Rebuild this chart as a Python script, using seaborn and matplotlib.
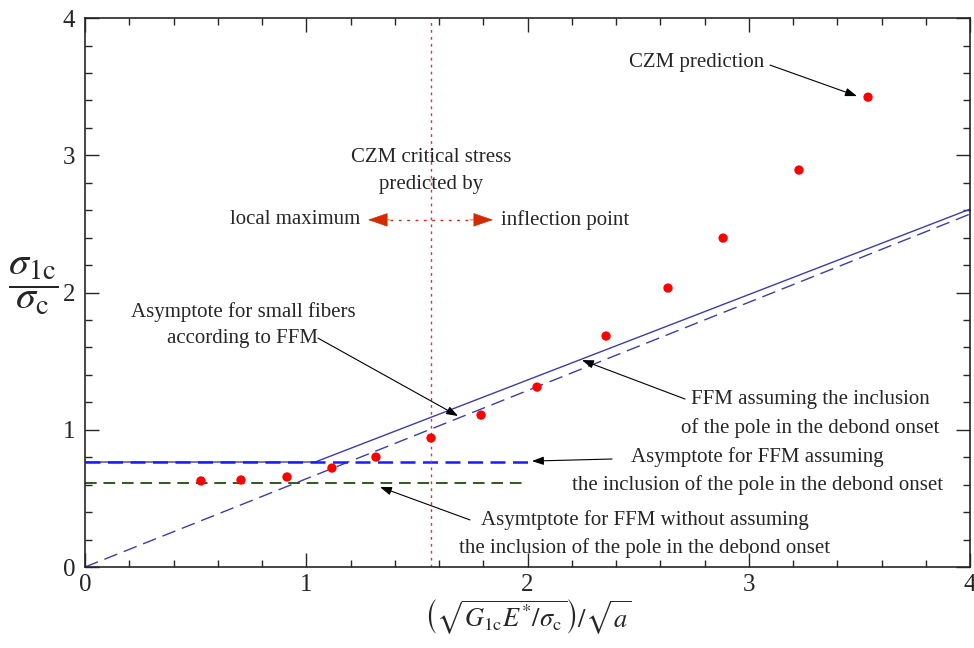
import matplotlib
matplotlib.use("Agg")
import matplotlib.pyplot as plt
from matplotlib.ticker import MultipleLocator
import pandas as pd
import seaborn as sns

# CZM prediction points
czm_x = [0.524, 0.705, 0.913, 1.116, 1.315, 1.564, 1.790, 2.043, 2.355, 2.635, 2.884, 3.227, 3.539]
czm_y = [0.627, 0.634, 0.656, 0.721, 0.801, 0.940, 1.107, 1.311, 1.683, 2.033, 2.397, 2.893, 3.424]

# FFM curve (with pole) and its small-fiber asymptote
ffm_x = [0.0, 1.04, 4.0]
ffm_y = [0.765, 0.765, 2.608]
small_x = [0.0, 4.0]
small_y = [0.0, 2.572]

# horizontal asymptotes
asym_x = [0.0, 2.0]
asym_pole_y = [0.765, 0.765]
asym_nopole_y = [0.612, 0.612]

# critical stress position
x_crit = 1.565

sns.set_style("ticks")
plt.rcParams['font.family'] = ['Liberation Serif', 'DejaVu Serif']
plt.rcParams['mathtext.fontset'] = 'stix'

fig = plt.figure(figsize=(9.74, 6.48), dpi=100)
ax = fig.add_axes([0.0873, 0.125, 0.9086, 0.847])

sns.lineplot(x=small_x, y=small_y, ax=ax, color='#3c3ca8', lw=1.0)
ax.lines[-1].set_dashes([10, 5])
sns.lineplot(x=ffm_x, y=ffm_y, ax=ax, color='#3c3ca8', lw=1.0)
sns.lineplot(x=asym_x, y=asym_pole_y, ax=ax, color='#1a1aff', lw=1.8)
ax.lines[-1].set_dashes([6, 3])
sns.lineplot(x=asym_x, y=asym_nopole_y, ax=ax, color='#2d5a1b', lw=1.4)
ax.lines[-1].set_dashes([6, 3.5])
ax.axvline(x_crit, color='#e03030', lw=1.0, ls=(0, (2, 3)))

czm = pd.DataFrame({'x': czm_x, 'y': czm_y})
sns.scatterplot(data=czm, x='x', y='y', ax=ax, color='#ff0000', s=45, edgecolor='none', zorder=5)

ax.set_xlim(0, 4)
ax.set_ylim(0, 4)
ax.xaxis.set_major_locator(MultipleLocator(1))
ax.yaxis.set_major_locator(MultipleLocator(1))
ax.xaxis.set_minor_locator(MultipleLocator(0.2))
ax.yaxis.set_minor_locator(MultipleLocator(0.2))
ax.tick_params(which='both', direction='in', top=True, right=True, width=1.0, labelsize=18, pad=7)
ax.tick_params(axis='x', pad=5)
ax.tick_params(which='major', length=10)
ax.tick_params(which='minor', length=5)
for sp in ax.spines.values():
    sp.set_linewidth(1.2)

ax.set_xlabel(r'$\left(\sqrt{G_{\rm 1c}E^{*}/\sigma_{\rm c}}\right)/\sqrt{a}$', fontsize=19, labelpad=1)
ax.set_ylabel(r'$\dfrac{\sigma_{\rm 1c}}{\sigma_{\rm c}}$', fontsize=29, rotation=0)
ax.yaxis.set_label_coords(-0.058, 0.455)

fs = 15
ls = 1.55
arrow_black = dict(arrowstyle='-|>,head_length=0.7,head_width=0.25', color='black', lw=0.8,
                   shrinkA=0, shrinkB=0)

ax.text(2.766, 3.68, 'CZM prediction', ha='center', va='center', fontsize=fs)
ax.annotate('', xy=(3.489, 3.432), xytext=(3.096, 3.658), arrowprops=arrow_black)

ax.text(x_crit, 2.885, 'CZM critical stress\npredicted by', ha='center', va='center', fontsize=fs,
        linespacing=ls)
ax.text(1.245, 2.53, 'local maximum', ha='right', va='center', fontsize=fs)
ax.text(1.88, 2.53, 'inflection point', ha='left', va='center', fontsize=fs)
ax.plot([1.378, 1.74], [2.53, 2.53], color='#d42a00', lw=1.0, ls=(0, (2, 4)))
for tail, tip in [(1.378, 1.279), (1.74, 1.844)]:
    ax.annotate('', xy=(tip, 2.53), xytext=(tail, 2.53),
                arrowprops=dict(arrowstyle='-|>,head_length=1.3,head_width=0.45', color='#d42a00',
                                lw=0.5, shrinkA=0, shrinkB=0))

ax.text(0.714, 1.763, 'Asymptote for small fibers\naccording to FFM', ha='center', va='center',
        fontsize=fs, linespacing=ls)
ax.annotate('', xy=(1.686, 1.100), xytext=(1.053, 1.668), arrowprops=arrow_black)

ax.text(3.277, 1.115, 'FFM assuming the inclusion\nof the pole in the debond onset', ha='center',
        va='center', fontsize=fs, linespacing=ls)
ax.annotate('', xy=(2.246, 1.508), xytext=(2.712, 1.224), arrowprops=arrow_black)

ax.text(3.04, 0.70, 'Asymptote for FFM assuming\nthe inclusion of the pole in the debond onset',
        ha='center', va='center', fontsize=fs, linespacing=ls)
ax.annotate('', xy=(2.020, 0.772), xytext=(2.382, 0.787), arrowprops=arrow_black)

ax.text(2.531, 0.24, 'Asymtptote for FFM without assuming\nthe inclusion of the pole in the debond onset',
        ha='center', va='center', fontsize=fs, linespacing=ls)
ax.annotate('', xy=(1.333, 0.583), xytext=(1.74, 0.343), arrowprops=arrow_black)

fig.savefig('out.png', dpi=100)
